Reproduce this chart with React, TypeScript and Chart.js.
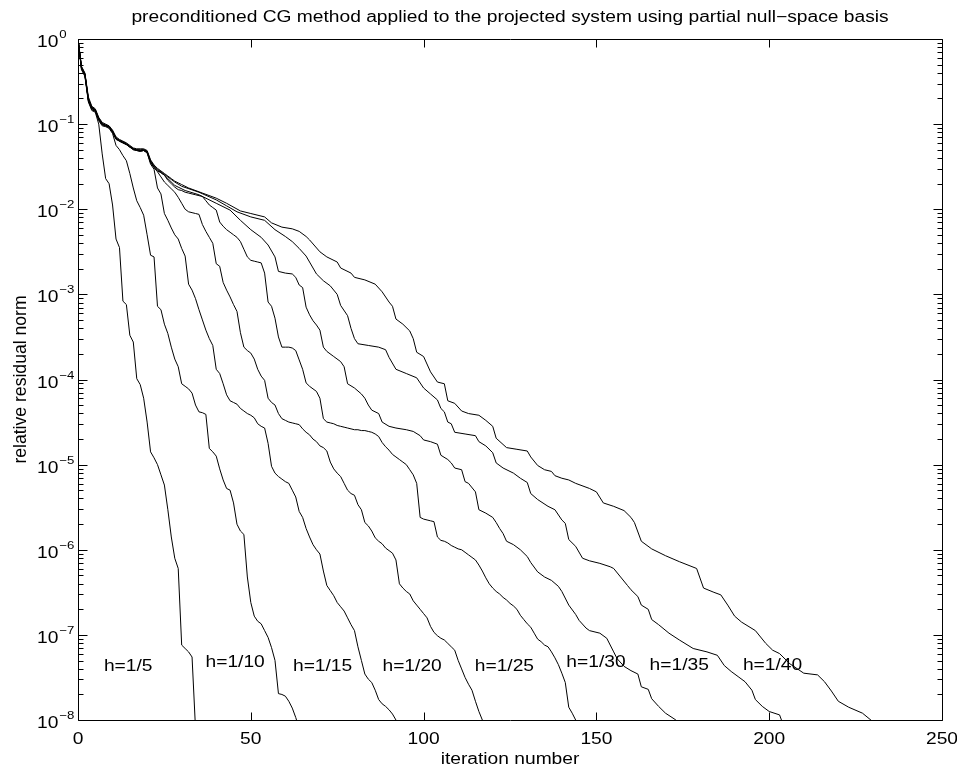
import React, { useEffect, useRef } from 'react';
import { Chart, registerables } from 'chart.js';

Chart.register(...registerables);

const TITLE = 'preconditioned CG method applied to the projected system using partial null\u2212space basis';
const X_LABEL = 'iteration number';
const Y_LABEL = 'relative residual norm';
const X_TICKS = [0, 50, 100, 150, 200, 250];
const Y_DECADES = [0, -1, -2, -3, -4, -5, -6, -7, -8];

// log10(relative residual norm); index = iteration number
const lg5 = [0, -0.36, -0.44, -0.74, -0.84, -0.86, -1.0, -1.35, -1.64, -1.7, -1.95, -2.35, -2.45, -3.08, -3.12, -3.48, -3.56, -3.99, -4.06, -4.22, -4.5, -4.85, -4.92, -5.0, -5.12, -5.24, -5.53, -5.85, -6.1, -6.22, -7.12, -7.16, -7.2, -7.26, -8.1];

const lg10 = [0, -0.35, -0.43, -0.73, -0.83, -0.85, -0.96, -1.02, -1.03, -1.05, -1.11, -1.25, -1.3, -1.37, -1.43, -1.58, -1.75, -1.9, -1.98, -2.07, -2.3, -2.54, -2.56, -3.14, -3.18, -3.35, -3.46, -3.62, -3.76, -3.85, -4.05, -4.08, -4.11, -4.16, -4.3, -4.38, -4.39, -4.41, -4.81, -4.85, -4.9, -5.05, -5.18, -5.28, -5.3, -5.45, -5.7, -5.78, -5.82, -6.32, -6.62, -6.78, -6.84, -6.87, -6.95, -7.03, -7.15, -7.3, -7.69, -7.7, -7.72, -7.78, -7.86, -7.97, -8.1];

const lg15 = [0, -0.34, -0.42, -0.72, -0.82, -0.84, -0.95, -1.01, -1.02, -1.04, -1.1, -1.18, -1.2, -1.22, -1.24, -1.27, -1.3, -1.31, -1.32, -1.31, -1.34, -1.47, -1.53, -1.75, -1.82, -2.05, -2.13, -2.22, -2.3, -2.35, -2.46, -2.55, -2.88, -2.95, -3.05, -3.18, -3.3, -3.42, -3.52, -3.6, -3.88, -3.93, -4.05, -4.18, -4.25, -4.27, -4.29, -4.34, -4.37, -4.4, -4.42, -4.45, -4.52, -4.55, -4.57, -4.75, -5.02, -5.1, -5.14, -5.17, -5.2, -5.22, -5.3, -5.38, -5.55, -5.62, -5.75, -5.85, -5.94, -6.0, -6.05, -6.25, -6.42, -6.48, -6.54, -6.62, -6.67, -6.72, -6.8, -6.88, -6.95, -7.14, -7.3, -7.46, -7.52, -7.56, -7.65, -7.76, -7.81, -7.84, -7.88, -7.93, -8.0, -8.1];

const lg20 = [0, -0.34, -0.42, -0.71, -0.81, -0.84, -0.94, -1.0, -1.02, -1.03, -1.09, -1.17, -1.2, -1.22, -1.24, -1.27, -1.29, -1.31, -1.31, -1.31, -1.33, -1.45, -1.51, -1.56, -1.62, -1.68, -1.72, -1.76, -1.8, -1.86, -1.93, -2.0, -2.03, -2.04, -2.05, -2.06, -2.18, -2.26, -2.33, -2.4, -2.64, -2.67, -2.86, -2.95, -3.03, -3.12, -3.2, -3.45, -3.62, -3.66, -3.69, -3.76, -3.88, -3.96, -4.01, -4.22, -4.27, -4.3, -4.4, -4.46, -4.48, -4.5, -4.51, -4.52, -4.53, -4.58, -4.62, -4.65, -4.7, -4.73, -4.78, -4.8, -4.84, -4.97, -5.05, -5.1, -5.14, -5.22, -5.3, -5.34, -5.36, -5.47, -5.53, -5.68, -5.72, -5.78, -5.86, -5.9, -5.93, -5.98, -6.01, -6.04, -6.12, -6.4, -6.45, -6.49, -6.52, -6.6, -6.65, -6.7, -6.75, -6.8, -6.9, -6.97, -7.01, -7.04, -7.06, -7.1, -7.14, -7.18, -7.3, -7.4, -7.5, -7.58, -7.65, -7.78, -7.9, -8.0, -8.1];

const lg25 = [0, -0.33, -0.41, -0.71, -0.81, -0.83, -0.94, -1.0, -1.01, -1.03, -1.09, -1.17, -1.19, -1.21, -1.23, -1.26, -1.29, -1.3, -1.31, -1.3, -1.32, -1.44, -1.5, -1.54, -1.57, -1.6, -1.66, -1.7, -1.74, -1.77, -1.78, -1.8, -1.81, -1.82, -1.83, -1.84, -1.85, -1.9, -1.95, -1.98, -2.01, -2.15, -2.2, -2.24, -2.27, -2.3, -2.33, -2.38, -2.47, -2.56, -2.6, -2.61, -2.62, -2.63, -2.75, -3.09, -3.14, -3.28, -3.5, -3.62, -3.62, -3.62, -3.63, -3.66, -3.77, -3.88, -4.04, -4.08, -4.11, -4.14, -4.22, -4.46, -4.5, -4.51, -4.52, -4.54, -4.55, -4.56, -4.57, -4.58, -4.59, -4.59, -4.6, -4.6, -4.61, -4.62, -4.64, -4.67, -4.74, -4.79, -4.83, -4.88, -4.91, -4.94, -4.97, -5.0, -5.06, -5.12, -5.22, -5.62, -5.64, -5.65, -5.66, -5.67, -5.85, -5.89, -5.9, -5.92, -5.95, -5.97, -5.99, -6.0, -6.03, -6.06, -6.09, -6.12, -6.18, -6.25, -6.33, -6.4, -6.45, -6.49, -6.52, -6.56, -6.59, -6.63, -6.66, -6.7, -6.77, -6.82, -6.87, -6.91, -6.98, -7.05, -7.08, -7.12, -7.14, -7.2, -7.27, -7.35, -7.45, -7.56, -7.85, -7.92, -8.0, -8.1];

// [iteration, log10(relative residual norm)] read at the corners of the curve
const h30: [number, number][] = [[0, 0], [1, -0.34], [2, -0.42], [3, -0.71], [4, -0.81], [5, -0.84], [6, -0.94], [7, -1.0], [8, -1.02], [9, -1.03], [10, -1.09], [11, -1.17], [12, -1.2], [13, -1.22], [14, -1.24], [15, -1.27], [16, -1.3], [17, -1.31], [18, -1.32], [19, -1.31], [20, -1.33], [21, -1.45], [22, -1.51], [23, -1.55], [24, -1.57], [25, -1.6], [26, -1.64], [28, -1.72], [31, -1.78], [35, -1.83], [40, -1.93], [44, -2.01], [47, -2.13], [50, -2.24], [53, -2.33], [55, -2.42], [57, -2.56], [58, -2.73], [60, -2.75], [62, -2.76], [63, -2.8], [64, -2.89], [65, -2.92], [66, -3.15], [67, -3.24], [68, -3.31], [69, -3.36], [70, -3.42], [71, -3.62], [72, -3.67], [74, -3.73], [76, -3.79], [77, -3.85], [78, -4.05], [80, -4.1], [82, -4.17], [83, -4.22], [84, -4.3], [85, -4.36], [87, -4.4], [88, -4.5], [90, -4.55], [92, -4.57], [95, -4.59], [97, -4.61], [99, -4.66], [100, -4.71], [102, -4.73], [104, -4.76], [105, -4.89], [107, -4.94], [108, -4.98], [109, -5.04], [111, -5.06], [112, -5.2], [113, -5.22], [115, -5.32], [116, -5.53], [118, -5.57], [120, -5.62], [121, -5.68], [122, -5.75], [123, -5.81], [124, -5.9], [126, -5.94], [128, -6.0], [130, -6.08], [131, -6.15], [133, -6.26], [135, -6.32], [137, -6.36], [139, -6.43], [140, -6.49], [142, -6.65], [144, -6.76], [145, -6.83], [147, -6.92], [148, -6.95], [151, -6.98], [153, -7.04], [155, -7.2], [156, -7.28], [158, -7.37], [160, -7.42], [162, -7.46], [163, -7.61], [165, -7.64], [166, -7.75], [168, -7.84], [170, -7.92], [173, -8.0], [174, -8.1]];

const h35: [number, number][] = [[0, 0], [1, -0.33], [2, -0.41], [3, -0.7], [4, -0.8], [5, -0.83], [6, -0.93], [7, -0.99], [8, -1.01], [9, -1.03], [10, -1.08], [11, -1.16], [12, -1.19], [13, -1.21], [14, -1.23], [15, -1.26], [16, -1.29], [17, -1.3], [18, -1.3], [19, -1.3], [20, -1.32], [21, -1.43], [22, -1.49], [23, -1.53], [24, -1.56], [25, -1.59], [26, -1.62], [27, -1.65], [28, -1.68], [30, -1.73], [35, -1.8], [40, -1.89], [43, -1.96], [46, -2.03], [50, -2.09], [54, -2.13], [57, -2.24], [60, -2.32], [62, -2.38], [64, -2.46], [66, -2.55], [67, -2.62], [69, -2.76], [71, -2.84], [73, -2.9], [75, -3.0], [76, -3.13], [78, -3.25], [79, -3.4], [80, -3.52], [81, -3.58], [84, -3.6], [87, -3.62], [89, -3.65], [90, -3.74], [92, -3.88], [95, -3.93], [98, -3.98], [100, -4.1], [102, -4.17], [104, -4.24], [105, -4.34], [106, -4.38], [107, -4.5], [108, -4.52], [109, -4.62], [112, -4.64], [115, -4.66], [116, -4.73], [118, -4.78], [120, -4.86], [121, -4.98], [123, -5.04], [126, -5.1], [128, -5.16], [130, -5.21], [131, -5.34], [133, -5.41], [136, -5.49], [138, -5.53], [140, -5.65], [141, -5.69], [142, -5.88], [144, -5.96], [146, -6.1], [148, -6.13], [151, -6.16], [154, -6.2], [155, -6.22], [157, -6.32], [159, -6.42], [160, -6.47], [162, -6.55], [163, -6.65], [165, -6.7], [166, -6.82], [168, -6.88], [171, -6.98], [174, -7.06], [178, -7.16], [182, -7.2], [185, -7.24], [187, -7.36], [189, -7.43], [191, -7.49], [193, -7.55], [195, -7.65], [196, -7.76], [198, -7.84], [200, -7.9], [203, -7.94], [204, -8.05]];

const h40: [number, number][] = [[0, 0], [1, -0.32], [2, -0.4], [3, -0.68], [4, -0.79], [5, -0.82], [6, -0.92], [7, -0.98], [8, -1.0], [9, -1.02], [10, -1.07], [11, -1.15], [12, -1.18], [13, -1.2], [14, -1.22], [15, -1.25], [16, -1.28], [17, -1.29], [18, -1.29], [19, -1.29], [20, -1.31], [21, -1.42], [22, -1.48], [23, -1.52], [24, -1.55], [25, -1.58], [26, -1.61], [27, -1.64], [28, -1.67], [29, -1.69], [30, -1.71], [32, -1.75], [36, -1.81], [40, -1.87], [43, -1.93], [47, -2.02], [50, -2.05], [54, -2.09], [56, -2.16], [59, -2.21], [62, -2.23], [64, -2.26], [66, -2.32], [67, -2.36], [70, -2.5], [72, -2.56], [75, -2.62], [76, -2.69], [79, -2.75], [80, -2.8], [83, -2.83], [86, -2.88], [88, -2.97], [90, -3.09], [91, -3.14], [92, -3.29], [94, -3.35], [96, -3.43], [97, -3.52], [98, -3.68], [100, -3.73], [102, -3.91], [104, -4.03], [106, -4.05], [107, -4.25], [109, -4.28], [111, -4.37], [113, -4.4], [116, -4.42], [118, -4.48], [120, -4.55], [121, -4.69], [124, -4.8], [127, -4.82], [130, -4.84], [131, -4.91], [133, -5.01], [135, -5.06], [137, -5.08], [138, -5.13], [140, -5.16], [142, -5.18], [144, -5.22], [148, -5.28], [150, -5.32], [152, -5.45], [155, -5.49], [158, -5.54], [160, -5.62], [161, -5.68], [163, -5.9], [166, -5.99], [170, -6.07], [174, -6.14], [179, -6.22], [181, -6.45], [184, -6.5], [186, -6.53], [188, -6.65], [190, -6.78], [192, -6.85], [196, -6.95], [199, -7.1], [201, -7.18], [203, -7.22], [206, -7.34], [210, -7.45], [214, -7.47], [216, -7.55], [218, -7.66], [220, -7.78], [223, -7.85], [227, -7.92], [230, -8.02]];

// in-plot text labels (MATLAB text() at data coordinates)
const CURVE_LABELS = ['h=1/5', 'h=1/10', 'h=1/15', 'h=1/20', 'h=1/25', 'h=1/30', 'h=1/35', 'h=1/40'];
const LABEL_IT = [7.5, 36.9, 62.2, 88.1, 114.8, 141.3, 165.4, 192.4];
const LABEL_LG = [-7.37, -7.32, -7.37, -7.37, -7.37, -7.33, -7.36, -7.36];

const FONT = '"Liberation Sans", Arial, Helvetica, sans-serif';
const HS = 1.2; // horizontal text stretch seen in the reference

function drawText(ctx: CanvasRenderingContext2D, s: string, x: number, y: number, size: number, align: CanvasTextAlign, baseline: CanvasTextBaseline = 'alphabetic') {
  ctx.save();
  ctx.font = `${size}px ${FONT}`;
  ctx.textAlign = align;
  ctx.textBaseline = baseline;
  ctx.fillStyle = '#000';
  ctx.translate(x, y);
  ctx.scale(HS, 1);
  ctx.fillText(s, 0, 0);
  ctx.restore();
}

function textWidth(ctx: CanvasRenderingContext2D, s: string, size: number) {
  ctx.save();
  ctx.font = `${size}px ${FONT}`;
  const w = ctx.measureText(s).width * HS;
  ctx.restore();
  return w;
}

const matlabAxes = {
  id: 'matlabAxes',
  afterDraw(chart: any) {
    const { ctx, chartArea: a, scales } = chart;
    const xs = scales.x;
    const ys = scales.y;
    ctx.save();
    ctx.strokeStyle = '#000';
    ctx.lineWidth = 1;
    const L = Math.round(a.left) + 0.5;
    const R = Math.round(a.right) + 0.5;
    const T = Math.round(a.top) + 0.5;
    const B = Math.round(a.bottom) + 0.5;
    ctx.beginPath();
    ctx.rect(L, T, R - L, B - T);
    // x ticks
    X_TICKS.forEach((v) => {
      const px = Math.round(xs.getPixelForValue(v)) + 0.5;
      ctx.moveTo(px, B); ctx.lineTo(px, B - 8);
      ctx.moveTo(px, T); ctx.lineTo(px, T + 8);
    });
    // y ticks (major and minor)
    Y_DECADES.forEach((k) => {
      const py = Math.round(ys.getPixelForValue(Math.pow(10, k))) + 0.5;
      ctx.moveTo(L, py); ctx.lineTo(L + 9, py);
      ctx.moveTo(R, py); ctx.lineTo(R - 9, py);
      if (k < 0) {
        for (let m = 2; m <= 9; m++) {
          const pm = Math.round(ys.getPixelForValue(m * Math.pow(10, k))) + 0.5;
          ctx.moveTo(L, pm); ctx.lineTo(L + 5, pm);
          ctx.moveTo(R, pm); ctx.lineTo(R - 5, pm);
        }
      }
    });
    ctx.stroke();
    ctx.restore();

    // x tick labels
    X_TICKS.forEach((v) => {
      drawText(ctx, String(v), xs.getPixelForValue(v), a.bottom + 24, 16, 'center');
    });
    // y tick labels 10^k
    Y_DECADES.forEach((k) => {
      const py = ys.getPixelForValue(Math.pow(10, k));
      const x0 = 37;
      drawText(ctx, '10', x0, py + 8, 16, 'left');
      const w = textWidth(ctx, '10', 16);
      const e = k === 0 ? '0' : '\u2212' + String(-k);
      drawText(ctx, e, x0 + w + 1, py - 1, 11, 'left');
    });
    // title and axis labels
    const cx = (a.left + a.right) / 2;
    drawText(ctx, TITLE, cx, 22, 16, 'center');
    drawText(ctx, X_LABEL, cx, 764, 16, 'center');
    ctx.save();
    ctx.translate(26, (a.top + a.bottom) / 2);
    ctx.rotate(-Math.PI / 2);
    ctx.font = `16px ${FONT}`;
    ctx.textAlign = 'center';
    ctx.fillStyle = '#000';
    ctx.scale(1.1, HS);
    ctx.fillText(Y_LABEL, 0, 0);
    ctx.restore();
    // curve labels
    CURVE_LABELS.forEach((s, i) => {
      const px = xs.getPixelForValue(LABEL_IT[i]);
      const py = ys.getPixelForValue(Math.pow(10, LABEL_LG[i]));
      drawText(ctx, s, px, py, 16, 'left', 'middle');
    });
  },
};

function series(lg: number[]) {
  return lg.map((v, i) => ({ x: i, y: Math.pow(10, v) }));
}
function pairs(p: [number, number][]) {
  return p.map(([i, v]) => ({ x: i, y: Math.pow(10, v) }));
}

export default function App() {
  const ref = useRef<HTMLCanvasElement | null>(null);
  useEffect(() => {
    if (!ref.current) return;
    const all = [series(lg5), series(lg10), series(lg15), series(lg20), series(lg25), pairs(h30), pairs(h35), pairs(h40)];
    const chart = new Chart(ref.current, {
      type: 'line',
      data: {
        datasets: all.map((d, i) => ({
          label: CURVE_LABELS[i],
          data: d,
          borderColor: '#000',
          borderWidth: 1,
          pointRadius: 0,
          tension: 0,
          fill: false,
        })),
      },
      options: {
        animation: false,
        responsive: false,
        devicePixelRatio: 1,
        layout: { padding: { left: 78, right: 15, top: 39, bottom: 49 } },
        plugins: { legend: { display: false }, title: { display: false }, tooltip: { enabled: false } },
        scales: {
          x: { type: 'linear', min: 0, max: 250, display: false },
          y: { type: 'logarithmic', min: 1e-8, max: 1, display: false },
        },
      },
      plugins: [matlabAxes],
    } as any);
    return () => chart.destroy();
  }, []);
  return (
    <div style={{ position: 'absolute', left: 0, top: 0, width: 957, height: 769, background: '#fff' }}>
      <canvas ref={ref} width={957} height={769} style={{ display: 'block', width: 957, height: 769 }} />
    </div>
  );
}
